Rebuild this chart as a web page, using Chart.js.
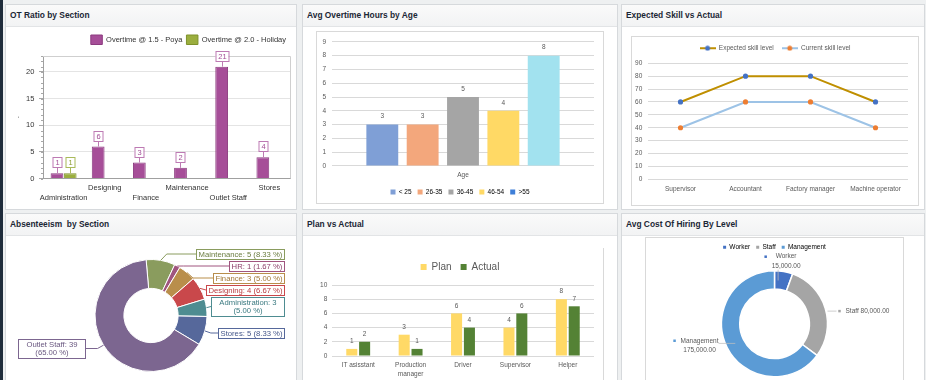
<!DOCTYPE html>
<html>
<head>
<meta charset="utf-8">
<title>HR Dashboard</title>
<script src="https://cdn.jsdelivr.net/npm/chart.js@4.4.1/dist/chart.umd.min.js"></script>
<style>
  html, body { margin: 0; padding: 0; }
  body {
    width: 926px; height: 380px; overflow: hidden; position: relative;
    background: #eef0f1;
    font-family: "Liberation Sans", Arial, sans-serif;
  }
  .strip { position: absolute; left: 0; top: 0; width: 3px; height: 380px; background: #1f2c3b; }
  .panel { position: absolute; background: #fff; border: 1px solid #d6d9dc; box-sizing: border-box; }
  .panel .hd {
    height: 21px; padding-left: 4px;
    background: linear-gradient(#fafafa, #f2f3f4);
    border-bottom: 1px solid #e2e4e6;
    font: bold 8.4px/21px "Liberation Sans", Arial, sans-serif; color: #1b2735;
    white-space: pre;
  }
  .chart { position: absolute; box-sizing: border-box; }
  .chart > div { position: relative; width: 100%; height: 100%; }
  .frame { border: 1px solid #d9d9d9; }
</style>
</head>
<body>
<div class="strip"></div>

<div class="panel" style="left:5px;top:4px;width:292px;height:206px"><div class="hd">OT Ratio by Section</div></div>
<div class="panel" style="left:302px;top:4px;width:316px;height:206px"><div class="hd">Avg Overtime Hours by Age</div></div>
<div class="panel" style="left:621px;top:4px;width:304px;height:206px"><div class="hd">Expected Skill vs Actual</div></div>
<div class="panel" style="left:5px;top:213px;width:292px;height:180px"><div class="hd">Absenteeism  by Section</div></div>
<div class="panel" style="left:302px;top:213px;width:316px;height:180px"><div class="hd">Plan vs Actual</div></div>
<div class="panel" style="left:621px;top:213px;width:304px;height:180px"><div class="hd">Avg Cost Of Hiring By Level</div></div>

<div class="chart" style="left:6px;top:27px;width:290px;height:182px"><div><canvas id="otChart"></canvas></div></div>
<div class="chart frame" style="left:316px;top:31px;width:288px;height:173px"><div><canvas id="ageChart"></canvas></div></div>
<div class="chart frame" style="left:631px;top:36px;width:288px;height:170px"><div><canvas id="skillChart"></canvas></div></div>
<div class="chart" style="left:6px;top:235px;width:290px;height:145px"><div><canvas id="absChart"></canvas></div></div>
<div class="chart" style="left:317px;top:248px;width:287px;height:140px;border-right:1px solid #d9d9d9"><div><canvas id="planChart"></canvas></div></div>
<div class="chart frame" style="left:645px;top:237px;width:259px;height:172px"><div><canvas id="costChart"></canvas></div></div>

<script>
// OT ratio by section
const otSections = ['Administration', 'Designing', 'Finance', 'Maintenance', 'Outlet Staff', 'Stores'];
const otPoya = [1, 6, 3, 2, 21, 4];
const otHoliday = [1, null, null, null, null, null];

// Avg overtime hours by age
const ageGroups = ['< 25', '26-35', '36-45', '46-54', '>55'];
const ageHours = [3, 3, 5, 4, 8];

// Expected skill vs actual
const skillRoles = ['Supervisor', 'Accountant', 'Factory manager', 'Machine operator'];
const skillExpected = [60, 80, 80, 60];
const skillCurrent = [40, 60, 60, 40];

// Absenteeism by section (clockwise from the top)
const absSections = ['Maintenance', 'HR', 'Finance', 'Designing', 'Administration', 'Stores', 'Outlet Staff'];
const absCounts = [5, 1, 3, 4, 3, 5, 39];

// Plan vs actual
const hireRoles = ['IT asisstant', 'Production manager', 'Driver', 'Supervisor', 'Helper'];
const hirePlan = [1, 3, 6, 4, 8];
const hireActual = [2, 1, 4, 6, 7];

// Avg cost of hiring by level
const costLevels = ['Worker', 'Staff', 'Management'];
const costValues = [15000, 80000, 175000];

// colours
const ageColors = ['#7f9fd6', '#f3a77c', '#a5a5a5', '#ffd965', '#a2e2ef'];
const ageLegendColors = ['#7f9fd6', '#f3a77c', '#a5a5a5', '#ffd965', '#3e7fd8'];
const absColors = ['#8a9c5e', '#a0557f', '#b98e4b', '#c9484b', '#4e8c91', '#56689b', '#7c6690'];
const absTextColors = ['#6b7d40', '#8c3f6a', '#a27837', '#b93a3e', '#3b7a80', '#45578a', '#6a5880'];
const costColors = ['#4472c4', '#a5a5a5', '#5b9bd5'];

const FONT = '"Liberation Sans", Arial, sans-serif';
Chart.defaults.font.family = FONT;
Chart.defaults.animation = false;
Chart.defaults.events = [];
Chart.defaults.plugins.tooltip.enabled = false;

// grow or shrink the space a legend takes
function legendGap(extra) {
  return {
    id: 'legendGap',
    beforeInit(chart) {
      const fit = chart.legend.fit;
      chart.legend.fit = function () {
        fit.call(this);
        this.height += extra;
      };
    }
  };
}

// empty right axis so the legend stays centred on the whole box
function spacer(w) {
  return {
    type: 'linear', position: 'right',
    grid: { display: false, drawTicks: false }, border: { display: false },
    ticks: { display: false },
    afterFit: s => { s.width = w; }
  };
}

// boxed value tags on the OT bars
const tagLabels = {
  id: 'tagLabels',
  afterDatasetsDraw(chart) {
    const ctx = chart.ctx;
    ctx.save();
    ctx.font = '7.5px ' + FONT;
    ctx.textAlign = 'center';
    ctx.textBaseline = 'middle';
    chart.data.datasets.forEach((ds, i) => {
      chart.getDatasetMeta(i).data.forEach((bar, j) => {
        const v = ds.data[j];
        if (v == null) return;
        const text = String(v);
        const w = Math.round(ctx.measureText(text).width + 5);
        const h = 10;
        const x = Math.round(bar.x);
        const bottom = Math.round(bar.y - 6);
        ctx.strokeStyle = ds.tagBorder;
        ctx.lineWidth = 1;
        ctx.beginPath();
        ctx.moveTo(x + 0.5, bar.y);
        ctx.lineTo(x + 0.5, bottom);
        ctx.stroke();
        ctx.fillStyle = '#fff';
        ctx.fillRect(x - w / 2, bottom - h, w, h);
        ctx.strokeRect(x - w / 2 + 0.5, bottom - h + 0.5, w, h);
        ctx.fillStyle = ds.tagColor;
        ctx.fillText(text, x + 0.5, bottom - h / 2 + 0.5);
      });
    });
    ctx.restore();
  }
};

// top/right frame and minor ticks of the OT plot
const plotFrame = {
  id: 'plotFrame',
  beforeDatasetsDraw(chart) {
    const { ctx, chartArea: a } = chart;
    const y = chart.scales.y;
    ctx.save();
    ctx.lineWidth = 1;
    ctx.strokeStyle = '#cfcfcf';
    ctx.beginPath();
    ctx.moveTo(a.left, Math.round(a.top) + 0.5);
    ctx.lineTo(Math.round(a.right) + 0.5, Math.round(a.top) + 0.5);
    ctx.lineTo(Math.round(a.right) + 0.5, a.bottom);
    ctx.stroke();
    ctx.strokeStyle = '#a8a8a8';
    ctx.beginPath();
    for (let v = 0; v <= y.max; v++) {
      const py = Math.round(y.getPixelForValue(v)) + 0.5;
      ctx.moveTo(a.left - 2, py);
      ctx.lineTo(a.left, py);
    }
    ctx.stroke();
    ctx.restore();
  }
};

// plain numbers above Excel-style bars
const valueLabels = {
  id: 'valueLabels',
  afterDatasetsDraw(chart, args, opts) {
    const ctx = chart.ctx;
    ctx.save();
    ctx.font = opts.font;
    ctx.fillStyle = opts.color;
    ctx.textAlign = 'center';
    ctx.textBaseline = 'middle';
    chart.data.datasets.forEach((ds, i) => {
      chart.getDatasetMeta(i).data.forEach((bar, j) => {
        ctx.fillText(ds.data[j], bar.x, bar.y - opts.offset);
      });
    });
    ctx.restore();
  }
};

// boxed callouts around the absenteeism doughnut
const callouts = {
  id: 'callouts',
  afterDatasetsDraw(chart, args, opts) {
    const ctx = chart.ctx;
    const ds = chart.data.datasets[0];
    const arcs = chart.getDatasetMeta(0).data;
    const total = ds.data.reduce((a, b) => a + b, 0);
    ctx.save();
    ctx.font = opts.font;
    const items = arcs.map((arc, i) => {
      const mid = (arc.startAngle + arc.endAngle) / 2;
      const pct = (ds.data[i] / total * 100).toFixed(2) + ' %';
      const head = chart.data.labels[i] + ': ' + ds.data[i];
      let lines = [head + ' (' + pct + ')'];
      if (ctx.measureText(lines[0]).width > opts.maxWidth) lines = [head, '(' + pct + ')'];
      const textW = Math.max(...lines.map(l => ctx.measureText(l).width));
      return {
        i, lines,
        w: Math.round(textW + (lines.length > 1 ? opts.wrapPad : opts.pad) * 2),
        h: Math.round(lines.length * opts.lineHeight + 1.5),
        side: Math.cos(mid) >= 0 ? 1 : -1,
        ex: arc.x + Math.cos(mid) * arc.outerRadius,
        ey: arc.y + Math.sin(mid) * arc.outerRadius,
        cy: arc.y + Math.sin(mid) * arc.outerRadius * 1.12
      };
    });
    [1, -1].forEach(side => {
      let next = -Infinity;
      items.filter(it => it.side === side).sort((a, b) => a.cy - b.cy).forEach(it => {
        it.top = Math.round(Math.max(it.cy - it.h / 2, next));
        next = it.top + it.h + 2;
        it.left = Math.round(side > 0 ? chart.width - opts.edge - it.w : opts.edge);
      });
    });
    items.forEach(it => {
      const color = ds.backgroundColor[it.i];
      const midY = it.top + it.h / 2;
      const boxX = it.side > 0 ? it.left : it.left + it.w;
      ctx.strokeStyle = color;
      ctx.lineWidth = 1;
      ctx.beginPath();
      ctx.moveTo(it.ex, it.ey);
      const kx = it.ex + it.side * 6;
      if ((boxX - kx) * it.side > 0) ctx.lineTo(kx, midY);
      ctx.lineTo(boxX, midY);
      ctx.stroke();
      ctx.fillStyle = '#fff';
      ctx.fillRect(it.left, it.top, it.w, it.h);
      ctx.strokeRect(it.left + 0.5, it.top + 0.5, it.w, it.h);
      ctx.fillStyle = ds.textColors[it.i];
      ctx.textAlign = 'center';
      ctx.textBaseline = 'middle';
      it.lines.forEach((l, k) => {
        ctx.fillText(l, it.left + it.w / 2 + 0.5, it.top + 1.5 + opts.lineHeight * (k + 0.5));
      });
    });
    ctx.restore();
  }
};

// name / value labels around the hiring cost ring
const costLabels = {
  id: 'costLabels',
  afterDatasetsDraw(chart) {
    const ctx = chart.ctx;
    const ds = chart.data.datasets[0];
    const lh = 9.3;
    ctx.save();
    ctx.font = '6.5px ' + FONT;
    ctx.textBaseline = 'middle';
    chart.getDatasetMeta(0).data.forEach((arc, i) => {
      const mid = (arc.startAngle + arc.endAngle) / 2;
      const cos = Math.cos(mid), sin = Math.sin(mid);
      const R = arc.outerRadius;
      const rm = (arc.outerRadius + arc.innerRadius) / 2;
      const mx = arc.x + cos * rm, my = arc.y + sin * rm;
      const name = chart.data.labels[i];
      const value = ds.data[i].toLocaleString('en-US', { minimumFractionDigits: 2 });
      const color = ds.backgroundColor[i];
      let lines, cx, top, lead;
      if (Math.abs(cos) < 0.5 && sin < 0) {
        lines = [name, value];
        cx = mx + 4;
        top = arc.y - R - 4.7 - lh * 1.5;
        lead = [mx - 4, top + lh * 2 - 1, mx - 4, my];
      } else if (cos > 0) {
        lines = [name + ' ' + value];
        const left = arc.x + R + 18;
        cx = left + ctx.measureText(lines[0]).width / 2;
        top = my - lh / 2;
        const ox = arc.x + Math.sqrt(R * R - (my - arc.y) * (my - arc.y));
        lead = [ox + 1.5, my, left - 9, my];
      } else {
        lines = [name, value];
        const w = Math.max(...lines.map(l => ctx.measureText(l).width));
        const right = arc.x - R - 3;
        cx = right - w / 2;
        top = my + 2 - lh;
        lead = [right, my, mx, my];
      }
      const w = Math.max(...lines.map(l => ctx.measureText(l).width));
      const dotX = cx - w / 2 - 6;
      ctx.strokeStyle = '#bfbfbf';
      ctx.lineWidth = 0.75;
      ctx.beginPath();
      ctx.moveTo(lead[0], lead[1]);
      ctx.lineTo(lead[2], lead[3]);
      ctx.stroke();
      ctx.fillStyle = color;
      ctx.fillRect(dotX - 1.25, top + lh / 2 - 1.25, 2.5, 2.5);
      ctx.fillStyle = '#595959';
      ctx.textAlign = 'center';
      lines.forEach((l, k) => ctx.fillText(l, cx, top + lh * (k + 0.5)));
    });
    ctx.restore();
  }
};

// ---- OT Ratio by Section ----
new Chart(document.getElementById('otChart'), {
  type: 'bar',
  data: {
    labels: otSections,
    datasets: [
      { label: 'Overtime @ 1.5 - Poya', data: otPoya, backgroundColor: '#a64e98', borderColor: '#8b3b7f',
        borderWidth: 1, tagColor: '#a24d95', tagBorder: '#bd7ab3' },
      { label: 'Overtime @ 2.0 - Holiday', data: otHoliday, backgroundColor: '#9bae3e', borderColor: '#7e912b',
        borderWidth: 1, tagColor: '#8a9c2f', tagBorder: '#a9ba5a' }
    ]
  },
  options: {
    responsive: true,
    maintainAspectRatio: false,
    layout: { padding: { top: 4, right: 6, bottom: 1, left: 0 } },
    datasets: { bar: { categoryPercentage: 0.64, barPercentage: 0.97 } },
    plugins: {
      legend: {
        position: 'top', align: 'end',
        labels: { boxWidth: 11.5, boxHeight: 9.5, padding: 4, color: '#333', font: { size: 7.5 } }
      }
    },
    scales: {
      x: {
        grid: { display: false, drawTicks: false },
        border: { color: '#a0a0a0' },
        ticks: {
          autoSkip: false, maxRotation: 0, padding: 5, color: '#333',
          font: { size: 7.5, lineHeight: 1.3 },
          callback: (v, i) => (i % 2 ? [otSections[i]] : ['', otSections[i]])
        }
      },
      y: {
        min: 0, max: 23,
        afterFit: s => { s.width = 37; },
        grid: { color: '#e4e4e4', tickLength: 4, tickColor: '#a8a8a8' },
        border: { color: '#a0a0a0' },
        ticks: { stepSize: 5, includeBounds: false, padding: 4.7, color: '#333', font: { size: 7.5 } },
        title: { display: true, text: '.', color: '#333', font: { size: 7.5 }, padding: { top: 6, bottom: 0 } }
      }
    }
  },
  plugins: [legendGap(1.5), plotFrame, tagLabels]
});

// ---- Avg Overtime Hours by Age ----
new Chart(document.getElementById('ageChart'), {
  type: 'bar',
  data: {
    labels: ['Age'],
    datasets: ageGroups.map((g, i) => ({ label: g, data: [ageHours[i]], backgroundColor: ageColors[i] }))
  },
  options: {
    responsive: true,
    maintainAspectRatio: false,
    layout: { padding: { top: 7.3, right: 0, bottom: 1.75, left: 0 } },
    datasets: { bar: { categoryPercentage: 0.77, barPercentage: 0.79 } },
    plugins: {
      legend: {
        position: 'bottom',
        labels: {
          boxWidth: 5, boxHeight: 5, padding: 6, color: '#595959', font: { size: 6.5 },
          generateLabels: () => ageGroups.map((g, i) => ({
            text: g, fillStyle: ageLegendColors[i], strokeStyle: ageLegendColors[i],
            lineWidth: 0, hidden: false, datasetIndex: i
          }))
        }
      },
      valueLabels: { font: '6.5px ' + FONT, color: '#595959', offset: 8 }
    },
    scales: {
      x: {
        grid: { display: false, drawTicks: false },
        border: { display: false },
        ticks: { padding: 5, color: '#595959', font: { size: 6.5 } },
        afterFit: s => { s.height -= 1; }
      },
      y: {
        min: 0, max: 9,
        afterFit: s => { s.width = 15; },
        grid: { color: '#d9d9d9', drawTicks: false },
        border: { display: false },
        ticks: { stepSize: 1, padding: 6, color: '#595959', font: { size: 6.5 } }
      },
      y2: spacer(9)
    }
  },
  plugins: [legendGap(-4), valueLabels]
});

// ---- Expected Skill vs Actual ----
function lineMarker(lineColor, dotColor) {
  const c = document.createElement('canvas');
  c.width = 16;
  c.height = 6;
  const g = c.getContext('2d');
  g.strokeStyle = lineColor;
  g.lineWidth = 2;
  g.beginPath();
  g.moveTo(0, 3);
  g.lineTo(16, 3);
  g.stroke();
  g.fillStyle = dotColor;
  g.beginPath();
  g.arc(8, 3, 2.5, 0, Math.PI * 2);
  g.fill();
  return c;
}
const skillMarkers = [lineMarker('#bf8f00', '#4472c4'), lineMarker('#9dc3e6', '#ed7d31')];

new Chart(document.getElementById('skillChart'), {
  type: 'line',
  data: {
    labels: skillRoles,
    datasets: [
      { label: 'Expected skill level', data: skillExpected, borderColor: '#bf8f00', borderWidth: 2,
        pointBackgroundColor: '#4472c4', pointBorderWidth: 0, pointRadius: 2.6 },
      { label: 'Current skill level', data: skillCurrent, borderColor: '#9dc3e6', borderWidth: 2,
        pointBackgroundColor: '#ed7d31', pointBorderWidth: 0, pointRadius: 2.6 }
    ]
  },
  options: {
    responsive: true,
    maintainAspectRatio: false,
    layout: { padding: { top: 0, right: 0, bottom: 5.9, left: 0 } },
    plugins: {
      legend: {
        labels: {
          usePointStyle: true, pointStyleWidth: 16, padding: 8, color: '#595959', font: { size: 6.5 },
          generateLabels: chart => chart.data.datasets.map((ds, i) => ({
            text: ds.label, pointStyle: skillMarkers[i], fontColor: '#595959',
            lineWidth: 0, hidden: false, datasetIndex: i
          }))
        }
      }
    },
    scales: {
      x: {
        offset: true,
        grid: { display: false, drawTicks: false },
        border: { display: false },
        ticks: { padding: 6, color: '#595959', font: { size: 6.5 } }
      },
      y: {
        min: 0, max: 90,
        afterFit: s => { s.width = 16; },
        grid: { color: '#d9d9d9', drawTicks: false },
        border: { display: false },
        ticks: { stepSize: 10, padding: 5.7, color: '#595959', font: { size: 6.5 } }
      },
      y2: spacer(10)
    }
  },
  plugins: [legendGap(1.8)]
});

// ---- Absenteeism by Section ----
new Chart(document.getElementById('absChart'), {
  type: 'doughnut',
  data: {
    labels: absSections,
    datasets: [{
      data: absCounts, backgroundColor: absColors, textColors: absTextColors,
      borderColor: '#ffffff', borderWidth: 1
    }]
  },
  options: {
    responsive: true,
    maintainAspectRatio: false,
    rotation: -5,
    radius: 56,
    cutout: 31,
    layout: { padding: { top: 16, right: 0, bottom: 0, left: 0 } },
    plugins: {
      legend: { display: false },
      callouts: { font: '7.7px ' + FONT, lineHeight: 8.5, maxWidth: 86, pad: 2, wrapPad: 8, edge: 12 }
    }
  },
  plugins: [callouts]
});

// ---- Plan vs Actual ----
new Chart(document.getElementById('planChart'), {
  type: 'bar',
  data: {
    labels: hireRoles,
    datasets: [
      { label: 'Plan', data: hirePlan, backgroundColor: '#ffd966' },
      { label: 'Actual', data: hireActual, backgroundColor: '#548235' }
    ]
  },
  options: {
    responsive: true,
    maintainAspectRatio: false,
    layout: { padding: { top: 5, right: 0, bottom: 3.8, left: 0 } },
    datasets: { bar: { categoryPercentage: 0.49, barPercentage: 0.86 } },
    plugins: {
      legend: { labels: { boxWidth: 6, boxHeight: 6, padding: 9, color: '#595959', font: { size: 10 } } },
      valueLabels: { font: '6.5px ' + FONT, color: '#595959', offset: 7.5 }
    },
    scales: {
      x: {
        grid: { display: false, drawTicks: false },
        border: { display: false },
        ticks: {
          autoSkip: false, maxRotation: 0, padding: 5, color: '#595959',
          font: { size: 6.5, lineHeight: 1.4 },
          callback: (v, i) => (hireRoles[i].length > 12 ? hireRoles[i].split(' ') : hireRoles[i])
        }
      },
      y: {
        min: 0, max: 10,
        afterFit: s => { s.width = 15; },
        grid: { color: '#d9d9d9', drawTicks: false },
        border: { display: false },
        ticks: { stepSize: 2, padding: 4.7, color: '#595959', font: { size: 6.5 } }
      },
      y2: spacer(9)
    }
  },
  plugins: [legendGap(3), valueLabels]
});

// ---- Avg Cost Of Hiring By Level ----
new Chart(document.getElementById('costChart'), {
  type: 'doughnut',
  data: {
    labels: costLevels,
    datasets: [{ data: costValues, backgroundColor: costColors, borderColor: '#ffffff', borderWidth: 1.5 }]
  },
  options: {
    responsive: true,
    maintainAspectRatio: false,
    radius: 53,
    cutout: 41,
    layout: { padding: { top: 0, right: 0, bottom: 21.1, left: 0 } },
    plugins: {
      legend: {
        labels: {
          boxWidth: 3, boxHeight: 3, padding: 6, color: '#595959', font: { size: 6.5 },
          generateLabels: () => costLevels.map((l, i) => ({
            text: l, fillStyle: costColors[i], strokeStyle: costColors[i], lineWidth: 0, hidden: false, index: i
          }))
        }
      }
    }
  },
  plugins: [costLabels]
});
</script>
</body>
</html>
